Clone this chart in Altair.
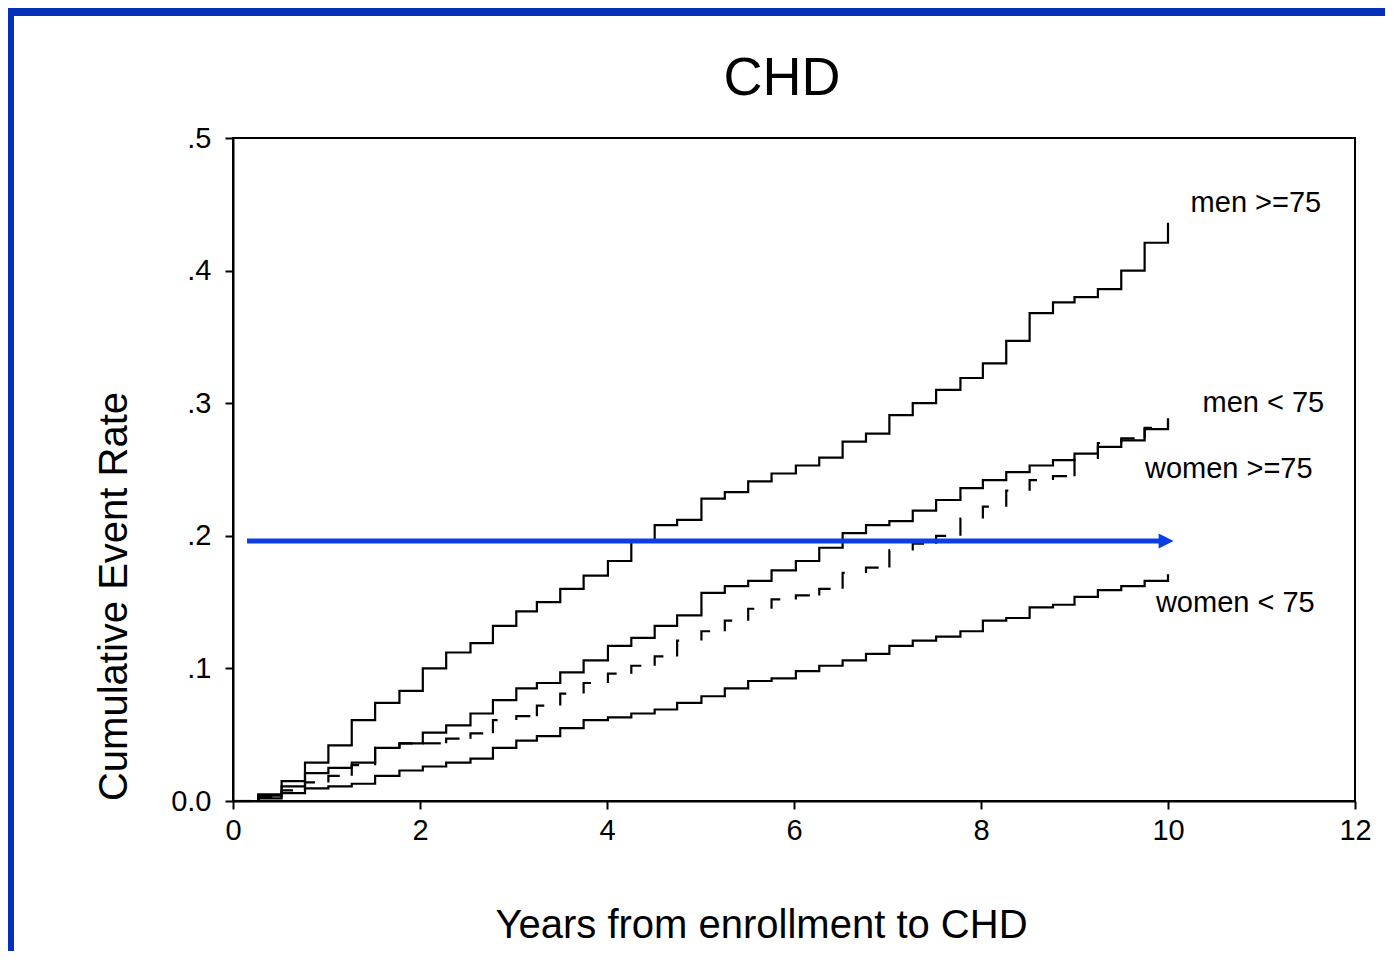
import json
import altair as alt
import pandas as pd

FONT = "Liberation Sans"

# ---- data ----
years = [0.00, 0.27, 0.52, 0.77, 1.02, 1.27, 1.52, 1.78, 2.03, 2.28, 2.54,
         2.78, 3.03, 3.25, 3.50, 3.75, 4.01, 4.26, 4.51, 4.75, 5.01,
         5.26, 5.51, 5.76, 6.02, 6.27, 6.52, 6.77, 7.02, 7.27, 7.52,
         7.78, 8.02, 8.27, 8.52, 8.77, 9.00, 9.25, 9.50, 9.75, 10.00]

men_75plus = [0, 0.005, 0.015, 0.029, 0.042, 0.061, 0.074, 0.083, 0.100, 0.112, 0.119,
              0.132, 0.143, 0.150, 0.160, 0.170, 0.181, 0.196, 0.208, 0.212, 0.228,
              0.233, 0.241, 0.247, 0.253, 0.259, 0.271, 0.277, 0.291, 0.300, 0.310,
              0.319, 0.330, 0.347, 0.368, 0.376, 0.380, 0.386, 0.400, 0.421, 0.436]

men_under75 = [0, 0.004, 0.011, 0.021, 0.025, 0.029, 0.040, 0.0435, 0.0515, 0.057, 0.066,
               0.076, 0.085, 0.089, 0.097, 0.106, 0.117, 0.123, 0.132, 0.140, 0.157,
               0.162, 0.166, 0.174, 0.181, 0.191, 0.202, 0.208, 0.211, 0.219, 0.227,
               0.236, 0.242, 0.248, 0.253, 0.257, 0.262, 0.267, 0.272, 0.2805, 0.2886]

women_75plus = [0, 0.003, 0.008, 0.014, 0.019, 0.027, 0.040, 0.0435, 0.0435, 0.047, 0.051,
                0.061, 0.064, 0.072, 0.081, 0.089, 0.096, 0.102, 0.109, 0.121, 0.128,
                0.136, 0.145, 0.152, 0.155, 0.160, 0.172, 0.176, 0.189, 0.194, 0.200,
                0.213, 0.222, 0.234, 0.242, 0.245, 0.258, 0.270, 0.2735, 0.2815, 0.2875]

women_under75 = [0, 0.002, 0.006, 0.0095, 0.011, 0.013, 0.019, 0.023, 0.026, 0.029, 0.032,
                 0.040, 0.0455, 0.049, 0.055, 0.061, 0.063, 0.066, 0.069, 0.074, 0.079,
                 0.085, 0.0905, 0.0925, 0.098, 0.102, 0.106, 0.111, 0.117, 0.121, 0.124,
                 0.128, 0.136, 0.138, 0.146, 0.148, 0.154, 0.159, 0.162, 0.166, 0.171]

series_names = ["men >=75", "men < 75", "women >=75", "women < 75"]
label_x = [10.94, 11.02, 10.65, 10.72]
label_y = [0.444, 0.2936, 0.2434, 0.1428]

x_ticks = [0, 2, 4, 6, 8, 10, 12]
y_ticks = [0, 0.1, 0.2, 0.3, 0.4, 0.5]
y_tick_labels = ["0.0", ".1", ".2", ".3", ".4", ".5"]

arrow_x = [0.15, 9.92]
arrow_level = 0.196
arrow_head_x = 9.98

chart_title = "CHD"

# ---- tables ----
solid_rows = []
for name, vals in [(series_names[0], men_75plus), (series_names[1], men_under75),
                   (series_names[3], women_under75)]:
    for t, v in zip(years, vals):
        solid_rows.append({"series": name, "t": t, "v": v})
solid_df = pd.DataFrame(solid_rows)

dash_rows = []
for k in range(len(years)):
    prev = women_75plus[k - 1] if k > 0 else women_75plus[k]
    pts = [(years[k], prev), (years[k], women_75plus[k])]
    if k + 1 < len(years):
        pts.append((years[k + 1], women_75plus[k]))
    for o, (tx, vy) in enumerate(pts):
        dash_rows.append({"seg": k, "o": o, "t": tx, "v": vy})
dash_df = pd.DataFrame(dash_rows)

label_df = pd.DataFrame({"t": label_x, "v": label_y, "name": series_names})
arrow_df = pd.DataFrame({"t": arrow_x, "v": [arrow_level] * len(arrow_x)})
head_df = pd.DataFrame({"t": [arrow_head_x], "v": [arrow_level]})
one = pd.DataFrame({"a": [0]})
title_df = pd.DataFrame({"title": [chart_title]})

W, H = 1122, 663

x_enc = alt.X("t:Q", scale=alt.Scale(domain=[0, 12], nice=False, zero=False),
              axis=alt.Axis(values=x_ticks, format="d", labelPadding=7, labelFlush=False,
                            title="Years from enrollment to CHD",
                            titleX=528, titleY=136, titleBaseline="alphabetic",
                            titleAlign="center"))
y_enc = alt.Y("v:Q", scale=alt.Scale(domain=[0, 0.5], nice=False),
              axis=alt.Axis(values=y_ticks, labelPadding=14, labelFlush=False,
                            labelExpr=json.dumps(y_tick_labels) + "[round(datum.value*10)]",
                            title="Cumulative Event Rate",
                            titleX=-107, titleY=458, titleAngle=270,
                            titleBaseline="alphabetic", titleAlign="center"))

solid = alt.Chart(solid_df).mark_line(interpolate="step-after", color="black",
                                      strokeWidth=2.2).encode(
    x=x_enc, y=y_enc, detail="series:N")

dashed = alt.Chart(dash_df).mark_line(color="black", strokeWidth=2.2,
                                      strokeDash=[18, 200]).encode(
    x=x_enc, y=y_enc, detail="seg:N", order="o:Q")

labels = alt.Chart(label_df).mark_text(font=FONT, fontSize=29, color="black",
                                       align="center", baseline="alphabetic").encode(
    x=x_enc, y=y_enc, text="name:N")

arrow = alt.Chart(arrow_df).mark_line(color="#0B3EE6", strokeWidth=5).encode(x=x_enc, y=y_enc)
head = alt.Chart(head_df).mark_point(shape="M-1,-1L1,0L-1,1Z", size=225, filled=True,
                                     opacity=1, color="#0B3EE6").encode(x=x_enc, y=y_enc)

title_mark = alt.Chart(title_df).mark_text(font=FONT, fontSize=54, color="black",
                                           align="center", baseline="alphabetic").encode(
    text="title:N", x=alt.value(549), y=alt.value(-43))

band_top = alt.Chart(one).mark_rect(color="#0430BA").encode(
    x=alt.value(-225), x2=alt.value(W + 40), y=alt.value(-130), y2=alt.value(-122))
band_left = alt.Chart(one).mark_rect(color="#0430BA").encode(
    x=alt.value(-225), x2=alt.value(-219), y=alt.value(-130), y2=alt.value(H + 160))

chart = alt.layer(solid, dashed, arrow, head, labels, title_mark, band_top, band_left).properties(
    width=W, height=H,
    autosize=alt.AutoSizeParams(type="none"),
    padding={"left": 225, "top": 130, "right": 30, "bottom": 150},
    background="white",
).configure_view(stroke="black", strokeWidth=2).configure_axis(
    grid=False, domainColor="black", domainWidth=2, tickColor="black", tickWidth=2,
    tickSize=8, labelFont=FONT, labelFontSize=29, labelColor="black",
    titleFont=FONT, titleFontSize=40, titleFontWeight="normal", titleColor="black")

chart.save("out.html", embed_options={"renderer": "svg", "actions": False})
